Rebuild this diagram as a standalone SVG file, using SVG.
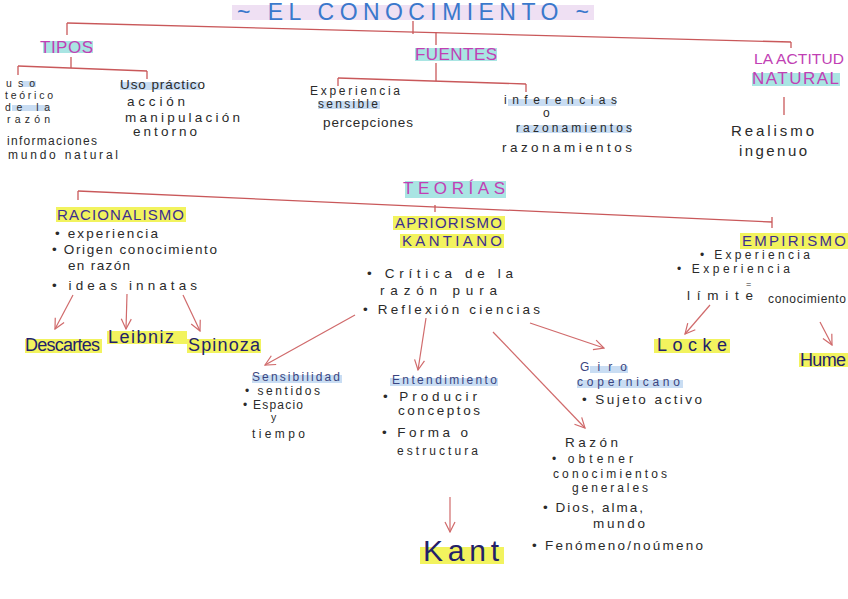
<svg xmlns="http://www.w3.org/2000/svg" width="848" height="599" viewBox="0 0 848 599">
<style>
text{font-family:"Liberation Sans",Arial,sans-serif;}
.t{font-size:15px;fill:#2a2a2a;}
.tb{font-size:13.5px;fill:#2a2a2a;}
.ts{font-size:12px;fill:#2a2a2a;}
.tx{font-size:10.5px;fill:#2a2a2a;}
.h1{font-size:17px;fill:#c13fb4;}
.hy{font-size:15px;fill:#3c2f8f;}
.hb{font-size:12px;fill:#3a4580;}
.nm{font-size:18px;fill:#231f6a;}
.ttl{font-size:23px;fill:#3a78cc;}
.yel{fill:#f2f35e;}
.cy{fill:#a9e5e3;}
.lb{fill:#c9ddf3;}
.ln{stroke:#c9585a;stroke-width:1.3;fill:none;}
.ar{stroke:#d06a6b;stroke-width:1.2;fill:none;}
</style>
<defs>
<marker id="ah" viewBox="0 0 12 12" refX="11" refY="6" markerWidth="12" markerHeight="12" markerUnits="userSpaceOnUse" orient="auto">
<path d="M1,1 L11,6 L1,11" fill="none" stroke="#d06a6b" stroke-width="1.2"/>
</marker>
</defs>
<rect width="848" height="599" fill="#ffffff"/>

<g id="connectors">
<line class="ln" x1="67" y1="23" x2="791" y2="42"/>
<line class="ln" x1="413" y1="21" x2="413" y2="34"/>
<line class="ln" x1="67" y1="23" x2="67" y2="35"/>
<line class="ln" x1="436" y1="32" x2="436" y2="45"/>
<line class="ln" x1="791" y1="42" x2="791" y2="48"/>
<line class="ln" x1="71" y1="57" x2="71" y2="68"/>
<line class="ln" x1="18" y1="66" x2="147" y2="71"/>
<line class="ln" x1="18" y1="66" x2="18" y2="75"/>
<line class="ln" x1="147" y1="71" x2="147" y2="79"/>
<line class="ln" x1="436" y1="63" x2="436" y2="81"/>
<line class="ln" x1="338" y1="78" x2="526" y2="84"/>
<line class="ln" x1="338" y1="78" x2="338" y2="86"/>
<line class="ln" x1="526" y1="84" x2="526" y2="92"/>
<line class="ln" x1="784" y1="97" x2="784" y2="115"/>
<line class="ln" x1="78" y1="191" x2="772" y2="222"/>
<line class="ln" x1="78" y1="191" x2="78" y2="200"/>
<line class="ln" x1="435" y1="205" x2="435" y2="212"/>
<line class="ln" x1="772" y1="217" x2="772" y2="228"/>
<line class="ar" x1="73" y1="295" x2="55" y2="329" marker-end="url(#ah)"/>
<line class="ar" x1="127" y1="294" x2="126" y2="329" marker-end="url(#ah)"/>
<line class="ar" x1="183" y1="295" x2="200" y2="331" marker-end="url(#ah)"/>
<line class="ar" x1="355" y1="315" x2="265" y2="365" marker-end="url(#ah)"/>
<line class="ar" x1="426" y1="318" x2="418" y2="370" marker-end="url(#ah)"/>
<line class="ar" x1="493" y1="332" x2="585" y2="428" marker-end="url(#ah)"/>
<line class="ar" x1="530" y1="323" x2="604" y2="348" marker-end="url(#ah)"/>
<line class="ar" x1="450" y1="497" x2="450" y2="532" marker-end="url(#ah)"/>
<line class="ar" x1="710" y1="305" x2="685" y2="334" marker-end="url(#ah)"/>
<line class="ar" x1="820" y1="322" x2="832" y2="345" marker-end="url(#ah)"/>
</g>

<g id="title">
<rect x="232" y="5" width="362" height="15" fill="#efe0f3"/>
<text class="ttl" x="237" y="20" textLength="352" lengthAdjust="spacing">~ EL CONOCIMIENTO ~</text>
</g>

<g id="tipos">
<rect class="cy" x="43" y="41" width="50" height="12"/>
<text class="h1" x="40" y="53" textLength="53" lengthAdjust="spacing">TIPOS</text>
</g>
<g id="uso-teorico">
<rect class="lb" x="22" y="81" width="14" height="6"/>
<rect class="lb" x="12" y="105" width="36" height="6"/>
<text class="tx" x="6" y="87" textLength="29" lengthAdjust="spacing">uso</text>
<text class="tx" x="5" y="99" textLength="48" lengthAdjust="spacing">teórico</text>
<text class="tx" x="5" y="111" textLength="45" lengthAdjust="spacing">de la</text>
<text class="tx" x="7" y="123" textLength="43" lengthAdjust="spacing">razón</text>
<text class="ts" x="7" y="145" textLength="90" lengthAdjust="spacing">informaciones</text>
<text class="ts" x="8" y="159" textLength="110" lengthAdjust="spacing">mundo natural</text>
</g>
<g id="uso-practico">
<rect class="lb" x="120" y="82" width="80" height="8"/>
<text class="tb" x="120" y="89" textLength="85" lengthAdjust="spacing">Uso práctico</text>
<text class="tb" x="127" y="106" textLength="58" lengthAdjust="spacing">acción</text>
<text class="tb" x="125" y="122" textLength="115" lengthAdjust="spacing">manipulación</text>
<text class="tb" x="133" y="136" textLength="64" lengthAdjust="spacing">entorno</text>
</g>

<g id="fuentes">
<rect class="cy" x="415" y="48" width="82" height="13"/>
<text class="h1" x="415" y="60" textLength="82" lengthAdjust="spacing">FUENTES</text>
</g>
<g id="experiencia-sensible">
<rect class="lb" x="318" y="101" width="62" height="8"/>
<text class="ts" x="310" y="95" textLength="90" lengthAdjust="spacing">Experiencia</text>
<text class="ts" x="318" y="108" textLength="60" lengthAdjust="spacing">sensible</text>
<text class="tb" x="323" y="127" textLength="90" lengthAdjust="spacing">percepciones</text>
</g>
<g id="inferencias">
<rect class="lb" x="508" y="99" width="108" height="7"/>
<rect class="lb" x="516" y="125" width="115" height="8"/>
<text class="ts" x="504" y="104" textLength="113" lengthAdjust="spacing">inferencias</text>
<text class="ts" x="543" y="117">o</text>
<text class="ts" x="516" y="132" textLength="116" lengthAdjust="spacing">razonamientos</text>
<text class="tb" x="502" y="152" textLength="130" lengthAdjust="spacing">razonamientos</text>
</g>

<g id="actitud-natural">
<rect class="cy" x="752" y="73" width="88" height="13"/>
<text class="h1" x="754" y="64" style="font-size:15.5px" textLength="90" lengthAdjust="spacing">LA ACTITUD</text>
<text class="h1" x="752" y="84" textLength="87" lengthAdjust="spacing">NATURAL</text>
</g>
<g id="realismo">
<text class="t" x="731" y="136" textLength="83" lengthAdjust="spacing">Realismo</text>
<text class="t" x="739" y="156" textLength="68" lengthAdjust="spacing">ingenuo</text>
</g>

<g id="teorias">
<rect class="cy" x="405" y="181" width="101" height="17"/>
<text class="h1" x="403" y="194" textLength="102" lengthAdjust="spacing">TEORÍAS</text>
</g>

<g id="racionalismo">
<rect class="yel" x="56" y="207" width="130" height="15"/>
<text class="hy" x="57" y="220" textLength="127" lengthAdjust="spacing">RACIONALISMO</text>
<text class="tb" x="55" y="238" textLength="103" lengthAdjust="spacing">• experiencia</text>
<text class="tb" x="52" y="254" textLength="165" lengthAdjust="spacing">• Origen  conocimiento</text>
<text class="tb" x="68" y="270" textLength="62" lengthAdjust="spacing">en razón</text>
<text class="tb" x="52" y="290" textLength="145" lengthAdjust="spacing">• ideas  innatas</text>
</g>
<g id="descartes">
<rect class="yel" x="25" y="339" width="77" height="14"/>
<text class="nm" x="25" y="351" textLength="75" lengthAdjust="spacing">Descartes</text>
</g>
<g id="leibniz">
<rect class="yel" x="107" y="331" width="80" height="13"/>
<text class="nm" x="108" y="343" textLength="66" lengthAdjust="spacing">Leibniz</text>
</g>
<g id="spinoza">
<rect class="yel" x="187" y="339" width="74" height="14"/>
<text class="nm" x="188" y="351" textLength="72" lengthAdjust="spacing">Spinoza</text>
</g>

<g id="apriorismo">
<rect class="yel" x="393" y="216" width="112" height="14"/>
<rect class="yel" x="400" y="234" width="104" height="14"/>
<text class="hy" x="395" y="228" textLength="107" lengthAdjust="spacing">APRIORISMO</text>
<text class="hy" x="402" y="246" textLength="100" lengthAdjust="spacing">KANTIANO</text>
<text class="tb" x="367" y="278" textLength="146" lengthAdjust="spacing">• Crítica  de  la</text>
<text class="tb" x="380" y="295" textLength="117" lengthAdjust="spacing">razón   pura</text>
<text class="tb" x="363" y="314" textLength="177" lengthAdjust="spacing">• Reflexión  ciencias</text>
</g>

<g id="sensibilidad">
<rect class="lb" x="252" y="375" width="90" height="8"/>
<text class="hb" x="252" y="381" textLength="88" lengthAdjust="spacing">Sensibilidad</text>
<text class="ts" x="245" y="395" textLength="75" lengthAdjust="spacing">• sentidos</text>
<text class="ts" x="243" y="409" textLength="60" lengthAdjust="spacing">• Espacio</text>
<text class="tx" x="271" y="421">y</text>
<text class="ts" x="252" y="438" textLength="53" lengthAdjust="spacing">tiempo</text>
</g>

<g id="entendimiento">
<rect class="lb" x="390" y="378" width="108" height="8"/>
<text class="hb" x="392" y="384" textLength="105" lengthAdjust="spacing">Entendimiento</text>
<text class="tb" x="383" y="401" textLength="94" lengthAdjust="spacing">• Producir</text>
<text class="tb" x="398" y="415" textLength="82" lengthAdjust="spacing">conceptos</text>
<text class="tb" x="382" y="437" textLength="86" lengthAdjust="spacing">• Forma  o</text>
<text class="ts" x="397" y="455" textLength="81" lengthAdjust="spacing">estructura</text>
</g>

<g id="giro-copernicano">
<rect class="lb" x="590" y="366" width="38" height="7"/>
<rect class="lb" x="577" y="380" width="106" height="8"/>
<text class="hb" x="580" y="371" textLength="47" lengthAdjust="spacing">Giro</text>
<text class="hb" x="577" y="386" textLength="103" lengthAdjust="spacing">copernicano</text>
<text class="tb" x="582" y="404" textLength="120" lengthAdjust="spacing">• Sujeto  activo</text>
</g>

<g id="razon">
<text class="tb" x="565" y="447" textLength="53" lengthAdjust="spacing">Razón</text>
<text class="ts" x="552" y="463" textLength="81" lengthAdjust="spacing">• obtener</text>
<text class="ts" x="553" y="478" textLength="114" lengthAdjust="spacing">conocimientos</text>
<text class="ts" x="572" y="492" textLength="76" lengthAdjust="spacing">generales</text>
<text class="tb" x="543" y="512" textLength="100" lengthAdjust="spacing">• Dios,  alma,</text>
<text class="tb" x="593" y="528" textLength="52" lengthAdjust="spacing">mundo</text>
<text class="tb" x="532" y="550" textLength="171" lengthAdjust="spacing">• Fenómeno/noúmeno</text>
</g>

<g id="kant">
<rect class="yel" x="420" y="547" width="84" height="17"/>
<text class="nm" x="423" y="561" style="font-size:30px" textLength="76" lengthAdjust="spacing">Kant</text>
</g>

<g id="empirismo">
<rect class="yel" x="740" y="233" width="108" height="16"/>
<text class="hy" x="742" y="246" textLength="104" lengthAdjust="spacing">EMPIRISMO</text>
<text class="ts" x="700" y="259" textLength="110" lengthAdjust="spacing">• Experiencia</text>
<text class="ts" x="677" y="273" textLength="113" lengthAdjust="spacing">• Experiencia</text>
<text class="tx" x="746" y="287" style="font-size:9px">=</text>
<text class="tb" x="687" y="300" textLength="66" lengthAdjust="spacing">límite</text>
<text class="ts" x="768" y="303" textLength="78" lengthAdjust="spacing">conocimiento</text>
</g>
<g id="locke">
<rect class="yel" x="654" y="339" width="76" height="14"/>
<text class="nm" x="657" y="351" textLength="70" lengthAdjust="spacing">Locke</text>
</g>
<g id="hume">
<rect class="yel" x="799" y="353" width="49" height="14"/>
<text class="nm" x="800" y="366" textLength="46" lengthAdjust="spacing">Hume</text>
</g>
</svg>
